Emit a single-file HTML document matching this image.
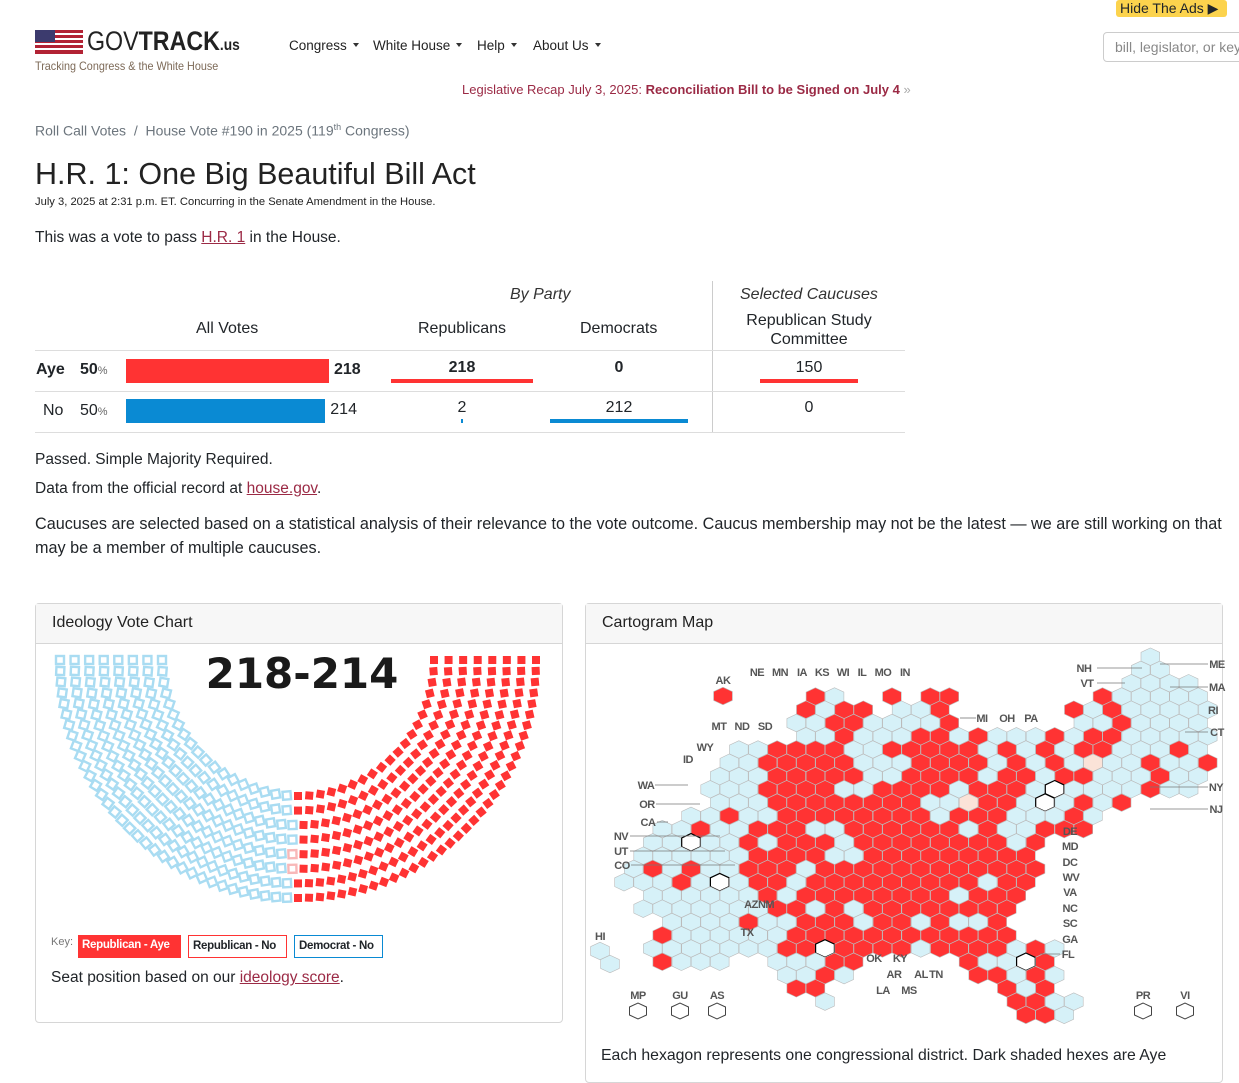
<!DOCTYPE html>
<html><head><meta charset="utf-8"><style>
*{box-sizing:border-box}
body{margin:0;width:1239px;height:1072px;overflow:hidden;background:#fff;font-family:"Liberation Sans",sans-serif;color:#212529;position:relative}
.a{position:absolute;white-space:nowrap}
.n{font-family:"Liberation Sans Narrow","Liberation Sans",sans-serif}
.nav{font-size:13.5px;top:38px;color:#222}
.nav:after{content:"";display:inline-block;margin-left:6px;border-left:3px solid transparent;border-right:3px solid transparent;border-top:4px solid #333;vertical-align:3px}
.card{position:absolute;border:1px solid #d6d6d6;border-radius:4px;background:#fff}
.card .hd{height:40px;background:#f7f7f7;border-bottom:1px solid #d6d6d6;font-size:16px;padding:10px 16px;color:#222}
.td{font-family:"Liberation Sans Narrow","Liberation Sans",sans-serif;font-size:16px;position:absolute;white-space:nowrap}
a{color:#9b2a45}
.key{position:absolute;top:935px;height:23px;font-size:11.5px;font-weight:bold;padding:4px 4px;white-space:nowrap;letter-spacing:-0.3px}
</style></head><body>

<div class="a" style="left:1116px;top:0;width:111px;height:17px;background:#fcd34d;border-radius:3px;font-size:14px;padding:0 4px;line-height:17px" ><span class="n">Hide The Ads ▶</span></div>

<div class="a" style="left:35px;top:28px;width:200px;height:46px">
<svg width="48" height="24" style="position:absolute;left:0;top:2px"><rect width="48" height="24" fill="#b22234"/><g fill="#fff"><rect x="18" y="3" width="30" height="2"/><rect x="18" y="8" width="30" height="2"/><rect y="13" width="48" height="2"/><rect y="18" width="48" height="2"/></g><rect width="20" height="12" fill="#3c3b6e"/></svg>
<span class="n" style="position:absolute;left:52px;top:-2px;font-size:27px;color:#222;transform:scaleX(0.86);transform-origin:0 0">GOV<b>TRACK</b><b style="font-size:16px">.us</b></span>
<span class="n" style="position:absolute;left:0;top:31px;font-size:12px;color:#7d6a58;transform:scaleX(0.9);transform-origin:0 0">Tracking Congress &amp; the White House</span>
</div>

<span class="a n nav" style="left:289px">Congress</span>
<span class="a n nav" style="left:373px">White House</span>
<span class="a n nav" style="left:477px">Help</span>
<span class="a n nav" style="left:533px">About Us</span>

<div class="a n" style="left:1103px;top:32px;width:145px;height:30px;border:1px solid #ccc;border-radius:4px;font-size:14px;color:#888;padding:6px 11px">bill, legislator, or keyword</div>

<div class="a n" style="left:462px;top:82px;font-size:13px;color:#9b2a45">Legislative Recap July 3, 2025: <b>Reconciliation Bill to be Signed on July 4</b> <span style="color:#aaa">»</span></div>

<div class="a" style="left:35px;top:122px;font-size:14px;color:#6c757d"><span>Roll Call Votes</span> &nbsp;/&nbsp; House Vote #190 in 2025 (119<sup style="font-size:9px">th</sup> Congress)</div>

<div class="a" style="left:35px;top:157px;font-size:30.5px;color:#222">H.R. 1: One Big Beautiful Bill Act</div>
<div class="a" style="left:35px;top:196px;font-size:11.2px;color:#222">July 3, 2025 at 2:31 p.m. ET. Concurring in the Senate Amendment in the House.</div>
<div class="a" style="left:35px;top:229px;font-size:15.5px">This was a vote to pass <a href="#">H.R. 1</a> in the House.</div>

<div>
<div class="td" style="left:510px;top:286px;font-style:italic;color:#333">By Party</div>
<div class="td" style="left:740px;top:286px;font-style:italic;color:#333">Selected Caucuses</div>
<div class="td" style="left:196px;top:320px">All Votes</div>
<div class="td" style="left:418px;top:320px">Republicans</div>
<div class="td" style="left:580px;top:320px">Democrats</div>
<div class="td" style="left:729px;width:160px;top:311px;text-align:center;line-height:19px">Republican Study<br>Committee</div>
<div style="position:absolute;left:712px;top:281px;width:1px;height:152px;background:#ccc"></div>
<div style="position:absolute;left:35px;top:350px;width:870px;height:1px;background:#ddd"></div>
<div style="position:absolute;left:35px;top:391px;width:870px;height:1px;background:#ddd"></div>
<div style="position:absolute;left:35px;top:432px;width:870px;height:1px;background:#ddd"></div>
<div class="td" style="left:36px;top:361px;font-weight:bold">Aye</div>
<div class="td" style="left:80px;top:361px;font-weight:bold">50<span style="font-size:11px;font-weight:normal;color:#666">%</span></div>
<div class="td" style="left:43px;top:402px">No</div>
<div class="td" style="left:80px;top:402px">50<span style="font-size:11px;color:#666">%</span></div>
<div id="tbl"></div>
</div>

<div class="a" style="left:35px;top:451px;font-size:15.5px">Passed. Simple Majority Required.</div>
<div class="a" style="left:35px;top:480px;font-size:15.5px">Data from the official record at <a href="#">house.gov</a>.</div>
<div class="a" style="left:35px;top:512px;font-size:16.2px;line-height:24px">Caucuses are selected based on a statistical analysis of their relevance to the vote outcome. Caucus membership may not be the latest — we are still working on that<br>may be a member of multiple caucuses.</div>

<div class="card" style="left:35px;top:603px;width:528px;height:420px">
<div class="hd">Ideology Vote Chart</div>
</div>
<div class="card" style="left:585px;top:603px;width:638px;height:480px">
<div class="hd">Cartogram Map</div>
</div>

<div class="a" style="left:51px;top:936px;font-size:11px;color:#777">Key:</div>
<div class="key" style="left:78px;background:#f33;color:#fff;width:103px">Republican - Aye</div>
<div class="key" style="left:188px;border:1px solid #f33;width:99px">Republican - No</div>
<div class="key" style="left:294px;border:1px solid #0a8ad3;width:89px">Democrat - No</div>
<div class="a" style="left:51px;top:969px;font-size:15.5px">Seat position based on our <a href="#">ideology score</a>.</div>
<div class="a" style="left:601px;top:1047px;font-size:15.8px">Each hexagon represents one congressional district. Dark shaded hexes are Aye</div>

<svg id="ov" width="1239" height="1072" style="position:absolute;left:0;top:0;pointer-events:none">
<text x="302" y="688" font-family="DejaVu Sans" font-weight="bold" font-size="42" fill="#1a1a1a" text-anchor="middle">218-214</text>
<g id="parl"></g><g id="hex"></g><g id="lbl"></g>
</svg>

<script>
const voteOptions=["Aye","No"];
const allVotes=[218,214];
const repVotes=[218,2];
const demVotes=[0,212];
const rscVotes=[150,0];
const NS="http://www.w3.org/2000/svg";
const tbl=document.getElementById('tbl');
function div(css,txt){const d=document.createElement('div');d.style.cssText='position:absolute;'+css;if(txt!==undefined){d.textContent=txt;d.className='td';}tbl.appendChild(d);return d;}
const maxAll=Math.max(...allVotes);
voteOptions.forEach((o,i)=>{
  const y=i?399:359, col=i?'#0a8ad3':'#f33';
  const w=203*allVotes[i]/maxAll;
  let b=div(`left:126px;top:${y}px;width:${w}px;height:24px;background:${col}`);
  
  
  let t=div(`left:${126+w+5}px;top:${y+2}px;${i?'':'font-weight:bold'}`,allVotes[i]);
  
  
  [[repVotes,462,143,'republicans'],[demVotes,619,138,'democrats'],[rscVotes,809,98,'rsc']].forEach(([arr,cx,fw,nm])=>{
    const tot=nm==='rsc'?150:arr.reduce((a,b)=>a+b,0);
    let c=div(`left:${cx-30}px;width:60px;text-align:center;top:${y}px;${i?'':'font-weight:'+(nm==='rsc'?'normal':'bold')}`,arr[i]);
    
    
    const bw=tot?fw*arr[i]/tot:0;
    if(bw>0){let u=div(`left:${cx-bw/2}px;top:${y+20}px;width:${Math.max(bw,1.5)}px;height:4px;background:${col}`);
      
      }
  });
});

const seatGroups=["Democrat - No","Republican - No","Republican - Aye"];
const seatCounts=[212,2,218];
const parl=document.getElementById('parl');
const cx=298,cy=660,rows=8,r0=136,r1=238;
const total=seatCounts.reduce((a,b)=>a+b,0);
const radii=[];for(let i=0;i<rows;i++)radii.push(r0+(r1-r0)*i/(rows-1));
const rsum=radii.reduce((a,b)=>a+b,0);
let seats=[];let assigned=0;
radii.forEach((r,i)=>{let n=i===rows-1?total-assigned:Math.round(total*r/rsum);assigned+=n;
  for(let k=0;k<n;k++){const th=Math.PI*k/(n-1);seats.push({r,th});}});
seats.sort((a,b)=>a.th-b.th||a.r-b.r);
let gi=0,cum=seatCounts[0];
seats.forEach((s,i)=>{while(i>=cum&&gi<seatCounts.length-1){gi++;cum+=seatCounts[gi];}
  const x=cx-s.r*Math.cos(s.th),y=cy+s.r*Math.sin(s.th);
  const e=document.createElementNS(NS,'rect');
  e.setAttribute('x',x-4);e.setAttribute('y',y-4);e.setAttribute('width',8);e.setAttribute('height',8);
  e.setAttribute('transform',`rotate(${s.th*180/Math.PI} ${x} ${y})`);
  if(gi===0){e.setAttribute('fill','#fff');e.setAttribute('stroke','#a9dcf2');e.setAttribute('stroke-width','2.4');}
  else if(gi===1){e.setAttribute('fill','#fff');e.setAttribute('stroke','#f8b8b8');e.setAttribute('stroke-width','2.4');}
  else{e.setAttribute('fill','#f33');}
  
  
  parl.appendChild(e);});

const hexRows=[
[0,28,"b"],[1,28,"bb"],[2,27,"bbbb"],
[3,11,"rb  r rr       rbbbbb"],
[4,10,"rbrr bbr      rbrbbbbb"],
[5,10,"bbrrbbbbr      bbrbbbb"],
[6,10,"bbrbbbrrbrbbbrbrrbbbbb"],
[7,7,"bbrrrrbbrrrrrbrbrbrrbbbrb"],
[8,6,"bbrrrrrbbbrrrrbrbrbpbbrbbr"],
[9,6,"bbbrrrrrbbrrrrbrrbrrbbbrbb"],
[10,5,"bbbrrrrbbrrrrbrrrbwbbbbrbb"],
[11,6,"bbbrrrrrrrrbbprrbwbrbr"],
[12,4,"bbrbbrrrrrrrrbrrrbbbrb"],
[13,3,"bbrbbrrrbbrrrrrrbrbbrrr"],
[14,2,"bbwbbrbrrrbrrrrrrrrbr"],
[15,2,"bbbbbbrrrrbbrrrrrrrrr"],
[16,1,"brbrbbrrrbrrrrrrrrrrrr"],
[17,1,"bbbrbwbrrbrrrrrrrrrbrr"],
[18,2,"bbbbbbrbrrrrrrrrbrrr"],
[19,2,"bbbbbbbrrbrbrrrrrrrr"],
[20,3,"bbbbrbbrrrbrrbrbbr"],
[21,3,"rbbbbbbrrrrrrrrrrrr"],
[22,2,"bbbbbbbrrwrrrrbrrrrbrb"],
[23,3,"rbbb  bbbrr     rbbwr"],
[24,9,"bbrb      rrbrb"],
[25,10,"rr         rbr"],
[26,11,"b         rrbb"],
[27,22,"rrb"]];
const hexColor={r:'#f33',b:'#d6f1f8',w:'#fff',p:'#fbe3d8'};
const hx=document.getElementById('hex');
const SX=2.44,S=8.8,KX=1.227;
function hexPts(x,y,s){let p=[];for(let k=0;k<6;k++){const a=Math.PI/180*(60*k-30);p.push((x+KX*s*Math.cos(a)).toFixed(1)+','+(y+s*Math.sin(a)).toFixed(1));}return p.join(' ');}
function addHex(x,y,fill,stroke,sw,nm,s){const e=document.createElementNS(NS,'polygon');e.setAttribute('points',hexPts(x,y,s||S));e.setAttribute('fill',fill);e.setAttribute('stroke',stroke);e.setAttribute('stroke-width',sw);
  
  
  hx.appendChild(e);}
hexRows.forEach(([r,c0,s])=>{const y=645+(35+39.8*r)/3;
  for(let i=0;i<s.length;i++){const ch=s[i];if(ch===' ')continue;const c=c0+i;
    const x=590+((r%2===0?59.7:36.3)+46.7*c)/SX;
    addHex(x,y,hexColor[ch],ch==='w'?'#000':'#bbb',ch==='w'?1.2:0.6,'district-hex');}});
addHex(723,696,'#f33','#bbb',0.6,'district-hex-ak');
addHex(600,951,'#d6f1f8','#bbb',0.6,'district-hex-hi');
addHex(610,964,'#d6f1f8','#bbb',0.6,'district-hex-hi');
[[638,1011],[680,1011],[717,1011],[1143,1011],[1185,1011]].forEach(p=>addHex(p[0],p[1],'#fff','#444',1,'territory-hex',8));
const stateLabels=[["AK",723,684],["NE",757,676],["MN",780,676],["IA",802,676],["KS",822,676],["WI",843,676],["IL",862,676],["MO",883,676],["IN",905,676],["MT",719,730],["ND",742,730],["SD",765,730],["WY",705,751],["ID",688,763],["WA",646,789],["OR",647,808],["CA",648,826],["NV",621,840],["UT",621,855],["CO",622,869],["AZ",751,908],["NM",766,908],["TX",747,936],["HI",600,940],["MP",638,999],["GU",680,999],["AS",717,999],["OK",874,962],["KY",900,962],["AR",894,978],["AL",921,978],["TN",936,978],["LA",883,994],["MS",909,994],["MI",982,722],["OH",1007,722],["PA",1031,722],["NH",1084,672],["VT",1087,687],["ME",1217,668],["MA",1217,691],["RI",1213,714],["CT",1217,736],["NY",1216,791],["NJ",1216,813],["DE",1070,835],["MD",1070,850],["DC",1070,866],["WV",1071,881],["VA",1070,896],["NC",1070,912],["SC",1070,927],["GA",1070,943],["FL",1068,958],["PR",1143,999],["VI",1185,999]];
const lb=document.getElementById('lbl');
stateLabels.forEach(([t,x,y])=>{const e=document.createElementNS(NS,'text');e.setAttribute('x',x);e.setAttribute('y',y);e.setAttribute('text-anchor','middle');e.setAttribute('font-family','Liberation Sans Narrow, Liberation Sans, sans-serif');e.setAttribute('font-weight','bold');e.setAttribute('font-size','11');e.setAttribute('fill','#555');e.setAttribute('letter-spacing','-0.5');e.textContent=t;
  
  
  lb.appendChild(e);});
[[655,785,688,785],[656,804,700,804],[657,822,668,822],[630,836,720,836],[630,851,725,851],[631,865,735,865],[1097,668,1142,668],[1097,683,1125,683],[1160,664,1208,664],[1170,687,1208,687],[1185,732,1208,732],[1150,787,1208,787],[1150,809,1208,809],[960,718,976,718],[1060,954,1040,954]].forEach(l=>{const e=document.createElementNS(NS,'line');e.setAttribute('x1',l[0]);e.setAttribute('y1',l[1]);e.setAttribute('x2',l[2]);e.setAttribute('y2',l[3]);e.setAttribute('stroke','#777');e.setAttribute('stroke-width','0.8');lb.appendChild(e);});
</script>
</body></html>
